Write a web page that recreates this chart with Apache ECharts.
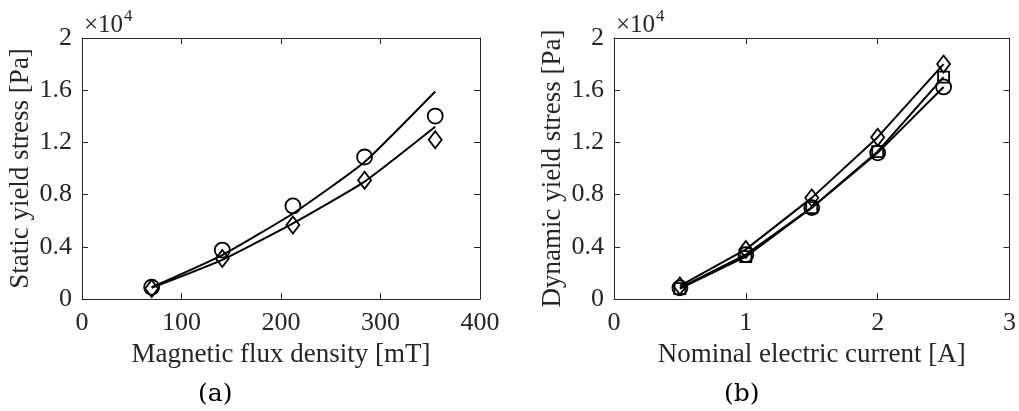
<!DOCTYPE html>
<html>
<head>
<meta charset="utf-8">
<script src="https://cdn.jsdelivr.net/npm/echarts@6/dist/echarts.min.js"></script>
<style>
  html, body { margin: 0; padding: 0; background: #fff; }
  #chart { width: 1019px; height: 411px; }
</style>
</head>
<body>
<div id="chart"></div>
<script>
// (a) static yield stress vs magnetic flux density
var fluxX = [70, 141, 212, 284, 355];
var staticCircle = [900, 3750, 7130, 10880, 14020];
var staticDiamond = [800, 3100, 5670, 9100, 12200];
var fitCircle = [900, 3370, 6550, 10500, 15900];
var fitDiamond = [850, 3000, 5800, 9000, 13200];

// (b) dynamic yield stress vs nominal current
var currentX = [0.5, 1.0, 1.5, 2.0, 2.5];
var dynDiamond = [1000, 3800, 7750, 12400, 18000];
var dynSquare = [800, 3250, 7000, 11300, 17000];
var dynCircle = [850, 3400, 7000, 11200, 16250];

var yTicks = ['0', '0.4', '0.8', '1.2', '1.6', '2'];

var font = 'Liberation Serif';
var txt = '#262626';

function pairs(xs, ys) {
  return xs.map(function (x, i) { return [x, ys[i]]; });
}

function xAxes(gi, max, interval, name) {
  return [
    {
      gridIndex: gi, type: 'value', min: 0, max: max, interval: interval,
      name: name, nameLocation: 'middle', nameGap: 42,
      nameTextStyle: { fontFamily: font, fontSize: 27, color: txt },
      axisLine: { onZero: false, lineStyle: { color: txt, width: 1 } },
      axisTick: { inside: true, length: 6, lineStyle: { color: txt } },
      axisLabel: { fontFamily: font, fontSize: 26, color: txt, margin: 11 },
      splitLine: { show: false }
    },
    {
      gridIndex: gi, type: 'value', min: 0, max: max, interval: interval, position: 'top',
      axisLine: { onZero: false, lineStyle: { color: txt, width: 1 } },
      axisTick: { inside: true, length: 6, lineStyle: { color: txt } },
      axisLabel: { show: false }, splitLine: { show: false }
    }
  ];
}

function yAxes(gi, name) {
  return [
    {
      gridIndex: gi, type: 'value', min: 0, max: 20000, interval: 4000,
      name: name, nameLocation: 'middle', nameGap: 48,
      nameTextStyle: { fontFamily: font, fontSize: 27, color: txt },
      axisLine: { onZero: false, lineStyle: { color: txt, width: 1 } },
      axisTick: { inside: true, length: 6, lineStyle: { color: txt } },
      axisLabel: {
        fontFamily: font, fontSize: 26, color: txt, margin: 10,
        formatter: function (v) { return yTicks[Math.round(v / 4000)]; }
      },
      splitLine: { show: false }
    },
    {
      gridIndex: gi, type: 'value', min: 0, max: 20000, interval: 4000, position: 'right',
      axisLine: { onZero: false, lineStyle: { color: txt, width: 1 } },
      axisTick: { inside: true, length: 6, lineStyle: { color: txt } },
      axisLabel: { show: false }, splitLine: { show: false }
    }
  ];
}

function markerSeries(xi, yi, data, symbol, size, withLine) {
  return {
    type: 'line', xAxisIndex: xi, yAxisIndex: yi, data: data,
    symbol: symbol, symbolSize: size, showAllSymbol: true,
    lineStyle: { color: '#000', width: withLine ? 2 : 0, opacity: withLine ? 1 : 0 },
    itemStyle: { color: 'rgba(0,0,0,0)', borderColor: '#000', borderWidth: 1.8 },
    animation: false, z: 3
  };
}

function fitSeries(xi, yi, data) {
  return {
    type: 'line', xAxisIndex: xi, yAxisIndex: yi, data: data,
    showSymbol: false, smooth: 0.15,
    lineStyle: { color: '#000', width: 2 },
    animation: false, z: 2
  };
}

var chart = echarts.init(document.getElementById('chart'));
var xs = xAxes(0, 400, 100, 'Magnetic flux density [mT]').concat(xAxes(1, 3, 1, 'Nominal electric current [A]'));
var ys = yAxes(0, 'Static yield stress [Pa]').concat(yAxes(1, 'Dynamic yield stress [Pa]'));

chart.setOption({
  backgroundColor: '#fff',
  animation: false,
  grid: [
    { left: 82, top: 38, width: 398, height: 261 },
    { left: 614, top: 38, width: 398, height: 261 }
  ],
  xAxis: xs,
  yAxis: ys,
  series: [
    fitSeries(0, 0, pairs(fluxX, fitCircle)),
    fitSeries(0, 0, pairs(fluxX, fitDiamond)),
    markerSeries(0, 0, pairs(fluxX, staticCircle), 'circle', 15, false),
    markerSeries(0, 0, pairs(fluxX, staticDiamond), 'diamond', [13, 17], false),
    markerSeries(2, 2, pairs(currentX, dynDiamond), 'diamond', [13, 17], true),
    markerSeries(2, 2, pairs(currentX, dynSquare), 'rect', 11, true),
    markerSeries(2, 2, pairs(currentX, dynCircle), 'circle', 15, true)
  ],
  graphic: [
    { type: 'text', left: 84, top: 13, style: { text: '×10', font: '25px "Liberation Serif"', fill: txt } },
    { type: 'text', left: 124, top: 8, style: { text: '4', font: '17px "Liberation Serif"', fill: txt } },
    { type: 'text', left: 616, top: 13, style: { text: '×10', font: '25px "Liberation Serif"', fill: txt } },
    { type: 'text', left: 656, top: 8, style: { text: '4', font: '17px "Liberation Serif"', fill: txt } },
    { type: 'text', left: 198, top: 382, style: { text: '(a)', font: '25px "DejaVu Serif"', fill: '#000' } },
    { type: 'text', left: 724, top: 382, style: { text: '(b)', font: '25px "DejaVu Serif"', fill: '#000' } }
  ]
});
</script>
</body>
</html>
